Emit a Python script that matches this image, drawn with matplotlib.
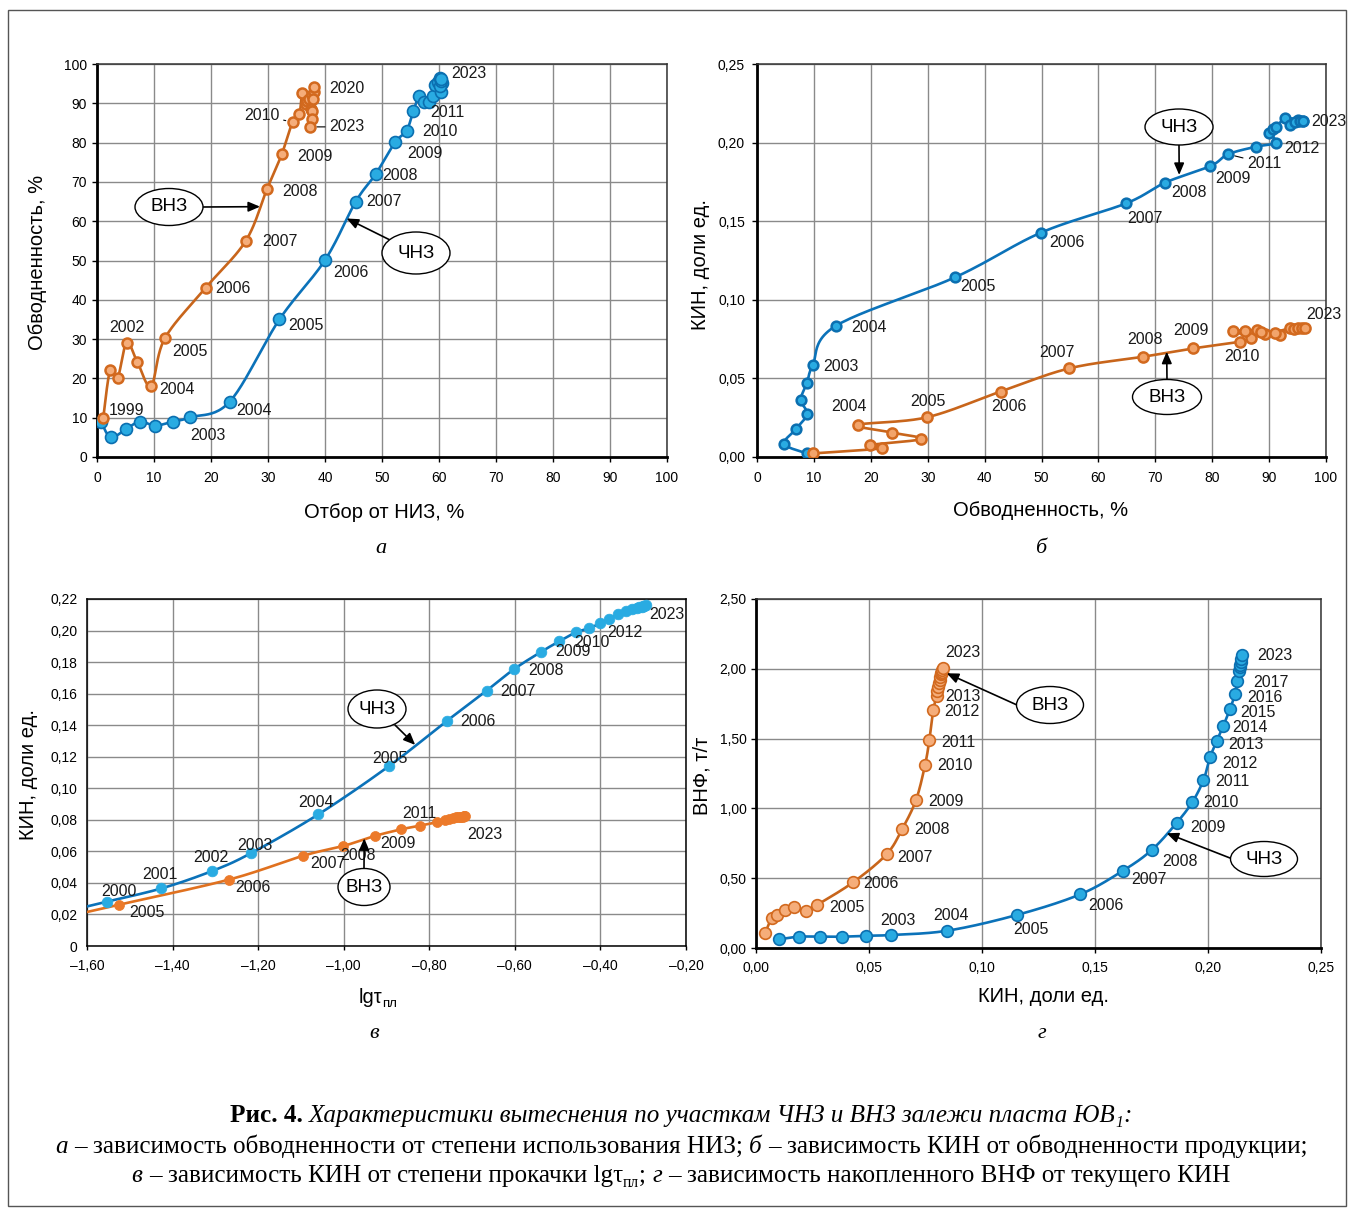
import numpy as np
import matplotlib
matplotlib.use('Agg')
import matplotlib.pyplot as plt
from matplotlib.patches import Ellipse, Rectangle
from matplotlib.ticker import MultipleLocator, FuncFormatter

plt.rcParams['font.family'] = ['Liberation Sans', 'DejaVu Sans']

# ---------------- DATA ----------------
# Panel a: water cut (%) vs recovery of recoverable reserves (%)
a_chnz_years = list(range(1997, 2024))
a_chnz_x = [0.7, 2.4, 5.0, 7.5, 10.2, 13.3, 16.4, 23.3, 32.0, 40.0, 45.4, 48.9, 52.3, 54.3, 55.5,
            56.5, 57.3, 58.3, 58.9, 59.3, 59.8, 60.2, 60.5, 60.4, 60.2, 60.4, 60.3]
a_chnz_y = [9.0, 5.0, 7.0, 9.0, 8.0, 9.0, 10.1, 14.1, 35.0, 50.1, 65.0, 72.0, 80.1, 83.0, 88.0,
            91.8, 90.4, 90.3, 91.9, 94.7, 95.5, 96.4, 95.2, 93.0, 94.5, 95.6, 96.2]
a_vnz_years = list(range(1999, 2024))
a_vnz_x = [1.1, 2.3, 3.6, 5.2, 7.1, 9.5, 11.9, 19.1, 26.1, 29.8, 32.4, 34.3,
           35.5, 36.0, 36.7, 36.9, 37.2, 37.5, 37.8, 38.0, 37.9, 38.1, 37.8, 37.8, 37.4]
a_vnz_y = [10.0, 22.1, 20.0, 29.1, 24.1, 18.1, 30.2, 43.1, 55.0, 68.1, 77.0, 85.2,
           87.2, 92.5, 89.7, 90.5, 91.0, 88.5, 92.0, 93.0, 91.0, 94.2, 88.1, 85.9, 84.0]

# Panel b: oil recovery factor vs water cut
b_chnz_years = list(range(1997, 2024))
b_chnz_x = [8.7, 4.8, 6.8, 8.8, 7.7, 8.8, 9.8, 13.8, 34.8, 49.9, 64.9, 71.7, 79.7,
            82.8, 87.7, 91.3, 89.9, 90.6, 91.3, 92.8, 95.1, 96.0, 95.0, 93.7, 94.5, 95.4, 96.0]
b_chnz_y = [0.0023, 0.0083, 0.0176, 0.0274, 0.0363, 0.0473, 0.0585, 0.0833, 0.1143, 0.1427, 0.1614, 0.1745, 0.1851,
            0.1926, 0.1974, 0.2000, 0.2063, 0.2085, 0.2100, 0.2155, 0.2144, 0.2137, 0.2140, 0.2112, 0.2130, 0.2140, 0.2140]
b_vnz_years = list(range(1999, 2024))
b_vnz_x = [9.9, 21.9, 19.9, 28.8, 23.8, 17.7, 29.8, 42.8, 54.9, 67.9, 76.7, 84.8,
           86.8, 83.7, 85.8, 87.8, 89.3, 88.6, 92.0, 91.0, 93.7, 94.4, 95.1, 95.7, 96.3]
b_vnz_y = [0.0023, 0.0055, 0.0076, 0.0114, 0.0155, 0.0204, 0.0252, 0.0416, 0.0564, 0.0638, 0.0691, 0.0733,
           0.0755, 0.0803, 0.0803, 0.0808, 0.0782, 0.0795, 0.0776, 0.0790, 0.0819, 0.0814, 0.0819, 0.0818, 0.0819]

# Panel c: oil recovery factor vs lg(pore volumes injected)
c_chnz_years = list(range(2000, 2024))
c_chnz_x = [-1.554, -1.426, -1.307, -1.217, -1.059, -0.894, -0.759, -0.666, -0.602, -0.538,
            -0.496, -0.457, -0.426, -0.401, -0.379, -0.358, -0.340, -0.327, -0.315, -0.309,
            -0.304, -0.300, -0.297, -0.294]
c_chnz_y = [0.0281, 0.0365, 0.0476, 0.0588, 0.0835, 0.1141, 0.1427, 0.1619, 0.1755, 0.1866,
            0.1932, 0.1989, 0.2014, 0.2046, 0.2073, 0.2105, 0.2126, 0.2137, 0.2143, 0.2148,
            0.2152, 0.2155, 0.2157, 0.2159]
c_vnz_years = list(range(2005, 2024))
c_vnz_x = [-1.525, -1.268, -1.094, -1.001, -0.927, -0.865, -0.822, -0.783, -0.763, -0.753,
           -0.745, -0.738, -0.733, -0.729, -0.725, -0.722, -0.720, -0.718, -0.716]
c_vnz_y = [0.0262, 0.0421, 0.0573, 0.0634, 0.0698, 0.0740, 0.0763, 0.0784, 0.0799, 0.0806,
           0.0811, 0.0815, 0.0817, 0.0819, 0.0820, 0.0821, 0.0822, 0.0823, 0.0824]

# Panel d: cumulative water-oil ratio vs recovery factor
d_chnz_years = list(range(1998, 2024))
d_chnz_x = [0.0103, 0.0190, 0.0283, 0.0379, 0.0487, 0.0597, 0.0847, 0.1153, 0.1434, 0.1623,
            0.1751, 0.1862, 0.1931, 0.1980, 0.2009, 0.2039, 0.2068, 0.2097, 0.2119, 0.2130,
            0.2137, 0.2140, 0.2142, 0.2144, 0.2146, 0.2149]
d_chnz_y = [0.062, 0.081, 0.081, 0.081, 0.088, 0.093, 0.124, 0.236, 0.384, 0.553,
            0.702, 0.898, 1.046, 1.203, 1.366, 1.483, 1.593, 1.710, 1.817, 1.912,
            1.984, 2.010, 2.030, 2.050, 2.070, 2.100]
d_vnz_years = list(range(1999, 2024))
d_vnz_x = [0.0040, 0.0069, 0.0091, 0.0128, 0.0170, 0.0221, 0.0269, 0.0430, 0.0578, 0.0647,
           0.0708, 0.0748, 0.0767, 0.0784, 0.0799, 0.0803, 0.0806, 0.0809, 0.0812, 0.0815,
           0.0817, 0.0819, 0.0821, 0.0823, 0.0826]
d_vnz_y = [0.105, 0.213, 0.236, 0.272, 0.296, 0.267, 0.308, 0.471, 0.672, 0.853,
           1.060, 1.311, 1.490, 1.702, 1.802, 1.840, 1.870, 1.900, 1.920, 1.940,
           1.960, 1.970, 1.980, 1.990, 2.009]

# ---------------- FIGURE ----------------
W, H = 1348, 1209
fig = plt.figure(figsize=(W / 100, H / 100), dpi=100)
fig.patch.set_facecolor('white')


def fpos(x, y):
    return (x / W, 1 - y / H)


def axes_px(l, t, r, b):
    return fig.add_axes([l / W, 1 - b / H, (r - l) / W, (b - t) / H])


BLUE_L = '#0b72b9'
BLUE_F = '#29abe2'
BLUE_E = '#0b6fb0'
OR_L = '#c8651b'
OR_F = '#f5ad7a'
OR_E = '#d2691e'


def smooth(x, y, n=24):
    P = np.column_stack([x, y]).astype(float)
    out = []
    m = len(P)
    for i in range(m - 1):
        p0 = P[i - 1] if i > 0 else P[i]
        p1 = P[i]
        p2 = P[i + 1]
        p3 = P[i + 2] if i + 2 < m else P[i + 1]
        t = np.linspace(0, 1, n, endpoint=False)[:, None]
        seg = 0.5 * ((2 * p1) + (-p0 + p2) * t + (2 * p0 - 5 * p1 + 4 * p2 - p3) * t ** 2
                     + (-p0 + 3 * p1 - 3 * p2 + p3) * t ** 3)
        out.append(seg)
    out.append(P[-1:])
    S = np.vstack(out)
    return S[:, 0], S[:, 1]


def dec(n, dash=False):
    def f(v, p):
        s = f'{v:.{n}f}'.replace('.', ',')
        if dash:
            s = s.replace('-', '\u2013')
        return s
    return FuncFormatter(f)


def style(ax, xlim, ylim, xstep, ystep, thick=True, xpad=6.5, ypad=3.6, tlen=3.6):
    ax.set_xlim(*xlim)
    ax.set_ylim(*ylim)
    ax.xaxis.set_major_locator(MultipleLocator(xstep))
    ax.yaxis.set_major_locator(MultipleLocator(ystep))
    ax.grid(True, color='#8a8a8a', lw=1.0)
    ax.set_axisbelow(True)
    for s in ['top', 'right']:
        ax.spines[s].set_color('#333333')
        ax.spines[s].set_linewidth(1.1)
    for s in ['left', 'bottom']:
        ax.spines[s].set_color('black')
        ax.spines[s].set_linewidth(2.0 if thick else 1.1)
    ax.tick_params(axis='x', direction='out', length=tlen, width=1, pad=xpad, labelsize=10)
    ax.tick_params(axis='y', direction='out', length=tlen, width=1, pad=ypad, labelsize=10)


def series(ax, x, y, lc, fc, ec, ms, mew, lw=1.9, smooth_line=True):
    if smooth_line:
        sx, sy = smooth(x, y)
        ax.plot(sx, sy, color=lc, lw=lw, solid_capstyle='round', zorder=3)
    ax.plot(x, y, 'o', ls='none', ms=ms, mfc=fc, mec=ec, mew=mew, zorder=4)


def labels(ax, years, xs, ys, specs, fs=11.5):
    for yr, spec in specs.items():
        i = years.index(yr)
        dx, dy, ha = spec[:3]
        txt = spec[3] if len(spec) > 3 and spec[3] else str(yr)
        leader = len(spec) > 4 and spec[4]
        kw = {}
        if leader:
            kw['arrowprops'] = dict(arrowstyle='-', color='black', lw=0.8, shrinkA=1, shrinkB=5)
        ax.annotate(txt, xy=(xs[i], ys[i]), xytext=(dx, dy), textcoords='offset pixels',
                    ha=ha, va='center', fontsize=fs, color='#1a1a1a', zorder=6,
                    annotation_clip=False, **kw)


def bubble(ax, text, cx, cy, w, h, sx, sy, tip):
    fig.add_artist(Ellipse(fpos(cx, cy), w / W, h / H, transform=fig.transFigure,
                           fc='white', ec='black', lw=1.0, zorder=7))
    fig.text(cx / W, 1 - cy / H, text, ha='center', va='center', fontsize=13.5, zorder=8)
    ax.annotate('', xy=tip, xycoords='data', xytext=fpos(sx, sy), textcoords='figure fraction',
                arrowprops=dict(arrowstyle='-|>,head_length=0.7,head_width=0.3', color='black',
                                lw=1.2, shrinkA=0, shrinkB=0), annotation_clip=False, zorder=6)


def ftext(x, y, s, **kw):
    return fig.text(x / W, 1 - y / H, s, **kw)


# ---------- panel a ----------
axa = axes_px(97, 64, 667, 457)
style(axa, (0, 100), (0, 100), 10, 10)
series(axa, a_chnz_x, a_chnz_y, BLUE_L, BLUE_F, BLUE_E, 8.6, 1.2)
series(axa, a_vnz_x, a_vnz_y, OR_L, OR_F, OR_E, 7.2, 1.8)
labels(axa, a_vnz_years, a_vnz_x, a_vnz_y, {
    1999: (5, 7, 'left'), 2002: (0, 15, 'center'), 2004: (8, -4, 'left'), 2005: (7, -13, 'left'),
    2006: (9, -1, 'left'), 2007: (16, -1, 'left'), 2008: (15, -2, 'left'), 2009: (16, -2, 'left'),
    2010: (-13, 7, 'right', None, True), 2020: (15, -2, 'left'), 2023: (19, 0, 'left', None, True)})
labels(axa, a_chnz_years, a_chnz_x, a_chnz_y, {
    2003: (0, -18, 'left'), 2004: (6, -9, 'left'), 2005: (9, -6, 'left'), 2006: (8, -12, 'left'),
    2007: (10, 0, 'left'), 2008: (7, -1, 'left'), 2009: (12, -11, 'left'), 2010: (16, -1, 'left'),
    2011: (17, -1, 'left'), 2023: (11, 5, 'left')})
bubble(axa, 'ВНЗ', 169, 207, 68, 37, 203, 207, (28.6, 63.7))
bubble(axa, 'ЧНЗ', 416, 253, 68, 42, 390, 240, (43.8, 60.7))

# ---------- panel b ----------
axb = axes_px(757, 64, 1326, 457)
style(axb, (0, 100), (0, 0.25), 10, 0.05, ypad=5)
axb.yaxis.set_major_formatter(dec(2))
series(axb, b_chnz_x, b_chnz_y, BLUE_L, BLUE_F, BLUE_E, 7.0, 1.8)
series(axb, b_vnz_x, b_vnz_y, OR_L, '#f2a46b', OR_E, 7.3, 1.8)
labels(axb, b_chnz_years, b_chnz_x, b_chnz_y, {
    2003: (10, -1, 'left'), 2004: (16, -1, 'left'), 2005: (5, -9, 'left'), 2006: (8, -10, 'left'),
    2007: (1, -15, 'left'), 2008: (6, -10, 'left'), 2009: (5, -12, 'left'),
    2010: (19, -9, 'left', '2011', True), 2012: (8, -6, 'left'), 2023: (8, -1, 'left')})
labels(axb, b_vnz_years, b_vnz_x, b_vnz_y, {
    2004: (-9, 18, 'center'), 2005: (1, 16, 'center'), 2006: (8, -15, 'center'),
    2007: (-12, 16, 'center'), 2008: (2, 17, 'center'), 2009: (-2, 18, 'center'),
    2010: (2, -15, 'center'), 2023: (19, 14, 'center')})
bubble(axb, 'ЧНЗ', 1179, 127, 68, 36, 1179, 145, (74.2, 0.1794))
bubble(axb, 'ВНЗ', 1167, 397, 69, 35, 1167, 380, (72.0, 0.0670))

# ---------- panel c ----------
axc = axes_px(87, 599, 686, 946)
style(axc, (-1.6, -0.2), (0, 0.22), 0.2, 0.02, thick=False, xpad=6, ypad=7)
axc.tick_params(axis='y', length=0)
axc.tick_params(axis='x', length=3)
for s in ['top', 'right']:
    axc.spines[s].set_color('black')
axc.xaxis.set_major_formatter(dec(2, dash=True))
axc.yaxis.set_major_formatter(FuncFormatter(lambda v, p: '0' if abs(v) < 1e-9 else f'{v:.2f}'.replace('.', ',')))
x0 = axc.get_xlim()[0]
for xs_, ys_, lc in [(c_chnz_x, c_chnz_y, BLUE_L), (c_vnz_x, c_vnz_y, '#e0711f')]:
    # smooth curve through the points, extended back to the left edge along the first segment's slope
    slope = (ys_[1] - ys_[0]) / (xs_[1] - xs_[0])
    ext_y = ys_[0] + slope * (x0 - xs_[0])
    sx, sy = smooth(xs_, ys_)
    axc.plot(np.r_[x0, sx], np.r_[ext_y, sy], color=lc, lw=1.9, zorder=3)
axc.plot(c_chnz_x, c_chnz_y, 'o', ls='none', ms=7.7, mfc=BLUE_F, mec=BLUE_F, mew=0.5, zorder=4)
axc.plot(c_vnz_x, c_vnz_y, 'o', ls='none', ms=7.2, mfc='#ec7a2a', mec='#ec7a2a', mew=0.5, zorder=4)
labels(axc, c_chnz_years, c_chnz_x, c_chnz_y, {
    2000: (12, 10, 'center'), 2001: (-2, 14, 'center'), 2002: (-1, 13, 'center'),
    2003: (4, 8, 'center'), 2004: (-2, 12, 'center'), 2005: (1, 8, 'center'),
    2006: (13, -1, 'left'), 2007: (14, -1, 'left'), 2008: (14, -1, 'left'), 2009: (14, 0, 'left'),
    2010: (15, -1, 'left'), 2012: (18, -4, 'left'), 2023: (3, -9, 'left')})
labels(axc, c_vnz_years, c_vnz_x, c_vnz_y, {
    2005: (10, -8, 'left'), 2006: (6, -8, 'left'), 2007: (7, -8, 'left'), 2008: (-3, -9, 'left'),
    2009: (5, -8, 'left'), 2011: (0, 12, 'center'), 2023: (2, -18, 'left')})
bubble(axc, 'ЧНЗ', 377, 709, 58, 38, 395, 725, (-0.833, 0.1275))
bubble(axc, 'ВНЗ', 364, 887, 52, 37, 364, 868, (-0.952, 0.0683))

# ---------- panel d ----------
axd = axes_px(756, 599, 1321, 948)
style(axd, (0, 0.25), (0, 2.5), 0.05, 0.5, xpad=5.8, ypad=3)
axd.xaxis.set_major_formatter(dec(2))
axd.yaxis.set_major_formatter(dec(2))
series(axd, d_chnz_x, d_chnz_y, BLUE_L, BLUE_F, BLUE_E, 8.4, 1.2)
series(axd, d_vnz_x, d_vnz_y, OR_L, OR_F, OR_E, 8.4, 1.2)
labels(axd, d_vnz_years, d_vnz_x, d_vnz_y, {
    2005: (12, -2, 'left'), 2006: (10, -1, 'left'), 2007: (11, -3, 'left'), 2008: (12, -1, 'left'),
    2009: (12, -1, 'left'), 2010: (12, -1, 'left'), 2011: (12, -3, 'left'), 2012: (11, -1, 'left'),
    2013: (9, 0, 'left'), 2023: (3, 15, 'left')})
labels(axd, d_chnz_years, d_chnz_x, d_chnz_y, {
    2003: (7, 15, 'center'), 2004: (4, 15, 'center'), 2005: (14, -14, 'center'),
    2006: (8, -11, 'left'), 2007: (8, -9, 'left'), 2008: (11, -11, 'left'), 2009: (13, -5, 'left'),
    2010: (11, -1, 'left'), 2011: (12, -1, 'left'), 2012: (12, -6, 'left'), 2013: (11, -4, 'left'),
    2014: (9, -2, 'left'), 2015: (10, -3, 'left'), 2016: (12, -3, 'left'), 2017: (16, -1, 'left'),
    2023: (16, -1, 'left')})
bubble(axd, 'ВНЗ', 1050, 705, 67, 37, 1017, 705, (0.0844, 1.968))
bubble(axd, 'ЧНЗ', 1264, 859, 67, 35, 1230, 858, (0.1817, 0.822))

# ---------- axis titles ----------
AF = 14.5
ftext(38, 262, 'Обводненность, %', rotation=90, ha='center', va='center', fontsize=AF)
ftext(384, 513, 'Отбор от НИЗ, %', ha='center', va='center', fontsize=AF)
ftext(700, 264, 'КИН, доли ед.', rotation=90, ha='center', va='center', fontsize=AF)
ftext(1041, 511, 'Обводненность, %', ha='center', va='center', fontsize=AF)
ftext(28, 775, 'КИН, доли ед.', rotation=90, ha='center', va='center', fontsize=AF)
ftext(702, 776, 'ВНФ, т/т', rotation=90, ha='center', va='center', fontsize=AF)
ftext(1043, 997, 'КИН, доли ед.', ha='center', va='center', fontsize=AF)

SERIF = ['Liberation Serif', 'DejaVu Serif']
for x, y, s in [(381, 548, 'а'), (1041, 548, 'б'), (374, 1033, 'в'), (1042, 1033, 'г')]:
    ftext(x, y, s, ha='center', va='center', fontsize=16, family=SERIF, style='italic')

renderer = fig.canvas.get_renderer()


def rich(pieces, cx, base_y):
    """pieces: (text, props, dy_px, gap_px)"""
    made = []
    for s, props, dy, gap in pieces:
        t = fig.text(0, 0, s, ha='left', va='baseline', **props)
        w = t.get_window_extent(renderer).width
        made.append((t, w, dy, gap))
    total = sum(w + g for _, w, _, g in made)
    x = cx - total / 2
    for t, w, dy, gap in made:
        x += gap
        t.set_position(fpos(x, base_y + dy))
        x += w
    return total


# x label of panel c
rich([('lgτ', dict(fontsize=AF), 0, 0), ('пл', dict(fontsize=9.5), 4, 0)], 378, 1003)

# caption
def cap_pieces(fs):
    sp = 0.25 * fs * 100 / 72
    reg = dict(fontsize=fs, family=SERIF)
    it = dict(fontsize=fs, family=SERIF, style='italic')
    bd = dict(fontsize=fs, family=SERIF, weight='bold')
    sub = dict(fontsize=fs * 0.62, family=SERIF, style='italic')
    subr = dict(fontsize=fs * 0.62, family=SERIF)
    l1 = [('Рис. 4.', bd, 0, 0), ('Характеристики вытеснения по участкам ЧНЗ и ВНЗ залежи пласта ЮВ', it, 0, sp),
          ('1', sub, 5, 0), (':', it, 0, 0)]
    l2 = [('а', it, 0, 0), ('– зависимость обводненности от степени использования НИЗ;', reg, 0, sp),
          ('б', it, 0, sp), ('– зависимость КИН от обводненности продукции;', reg, 0, sp)]
    l3 = [('в', it, 0, 0), ('– зависимость КИН от степени прокачки lgτ', reg, 0, sp), ('пл', subr, 5, 0),
          (';', reg, 0, 0), ('г', it, 0, sp), ('– зависимость накопленного ВНФ от текущего КИН', reg, 0, sp)]
    return l1, l2, l3


# measure line 2 at a trial size, then scale to the target width
_, l2t, _ = cap_pieces(16)
tmp = []
tot = 0
for s, props, dy, gap in l2t:
    t = fig.text(0, 0, s, **props)
    tot += t.get_window_extent(renderer).width + gap
    tmp.append(t)
for t in tmp:
    t.remove()
cfs = 16 * 1252 / tot
l1, l2, l3 = cap_pieces(cfs)
rich(l1, 681, 1122)
rich(l2, 681, 1153)
rich(l3, 681, 1182)

# outer frame
fig.add_artist(Rectangle(fpos(8, 1206), (1346 - 8) / W, (1206 - 10) / H, transform=fig.transFigure,
                         fill=False, ec='#555555', lw=1.0, zorder=0))

fig.savefig('out.png', dpi=100)
